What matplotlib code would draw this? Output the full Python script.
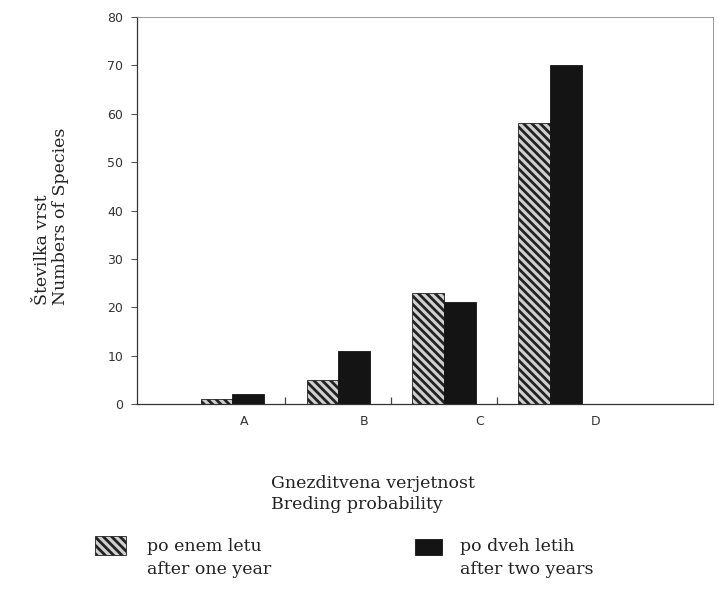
import matplotlib
matplotlib.use("Agg")
import matplotlib.pyplot as plt
import numpy as np
from matplotlib.patches import Rectangle

categories = ["A", "B", "C", "D"]
after_one_year = [1, 5, 23, 58]
after_two_years = [2, 11, 21, 70]
yticks = [0, 10, 20, 30, 40, 50, 60, 70, 80]

plt.rcParams['hatch.linewidth'] = 2.0
plt.rcParams['hatch.color'] = '#111111'

fig = plt.figure(figsize=(7.18, 6.10), dpi=100)
ax = fig.add_axes([0.191, 0.3377, 0.802, 0.6343])

x = np.arange(len(categories))
w = 0.3
ax.bar(x - w/2, after_one_year, w, facecolor='#d0d0d0', edgecolor='#222222',
       hatch='\\\\\\\\', linewidth=0.6)
ax.bar(x + w/2, after_two_years, w, facecolor='#141414', edgecolor='#141414', linewidth=0.6)

ax.set_xlim(-0.9, 4.54)
ax.set_ylim(0, 80)
ax.set_yticks(yticks)
ax.set_yticklabels([str(t) for t in yticks], fontsize=9, color='#333333')
ax.tick_params(axis='y', length=4, width=0.8, color='#555555', pad=6)

# group separator ticks (major), category labels (minor)
ax.set_xticks([0.5, 1.5, 2.5])
ax.set_xticklabels([])
ax.tick_params(axis='x', which='major', length=5, width=0.9, color='#444444', direction='in')
ax.set_xticks(x + np.array([0.11, 0.24, 0.34, 0.43]), minor=True)
ax.set_xticklabels(categories, minor=True, fontsize=9, color='#333333')
ax.tick_params(axis='x', which='minor', length=0, pad=8)

for s in ['left', 'bottom']:
    ax.spines[s].set_color('#333333')
    ax.spines[s].set_linewidth(0.9)
ax.spines['top'].set_color('#888888')
ax.spines['top'].set_linewidth(0.6)
ax.spines['right'].set_color('#888888')
ax.spines['right'].set_linewidth(0.6)

serif = ['DejaVu Serif']
fig.text(0.072, 0.5, "Številka vrst\nNumbers of Species", rotation=90,
         ha='center', va='bottom', fontsize=12.5, family=serif, color='#222222',
         linespacing=1.05, multialignment='left')
fig.text(0.52, 0.19, "Gnezditvena verjetnost\nBreding probability",
         ha='center', va='center', fontsize=12.5, family=serif, color='#222222',
         linespacing=1.25, multialignment='left')

# legend
fig.patches.append(Rectangle((0.133, 0.0905), 0.043, 0.03, transform=fig.transFigure,
                             facecolor='#d0d0d0', edgecolor='#222222', hatch='\\\\\\\\',
                             linewidth=0.6))
fig.text(0.205, 0.085, "po enem letu\nafter one year", ha='left', va='center',
         fontsize=12.5, family=serif, color='#222222', linespacing=1.45)
fig.patches.append(Rectangle((0.578, 0.0905), 0.038, 0.026, transform=fig.transFigure,
                             facecolor='#141414', edgecolor='#141414', linewidth=0.6))
fig.text(0.640, 0.085, "po dveh letih\nafter two years", ha='left', va='center',
         fontsize=12.5, family=serif, color='#222222', linespacing=1.45)

fig.savefig("out.png", dpi=100)
